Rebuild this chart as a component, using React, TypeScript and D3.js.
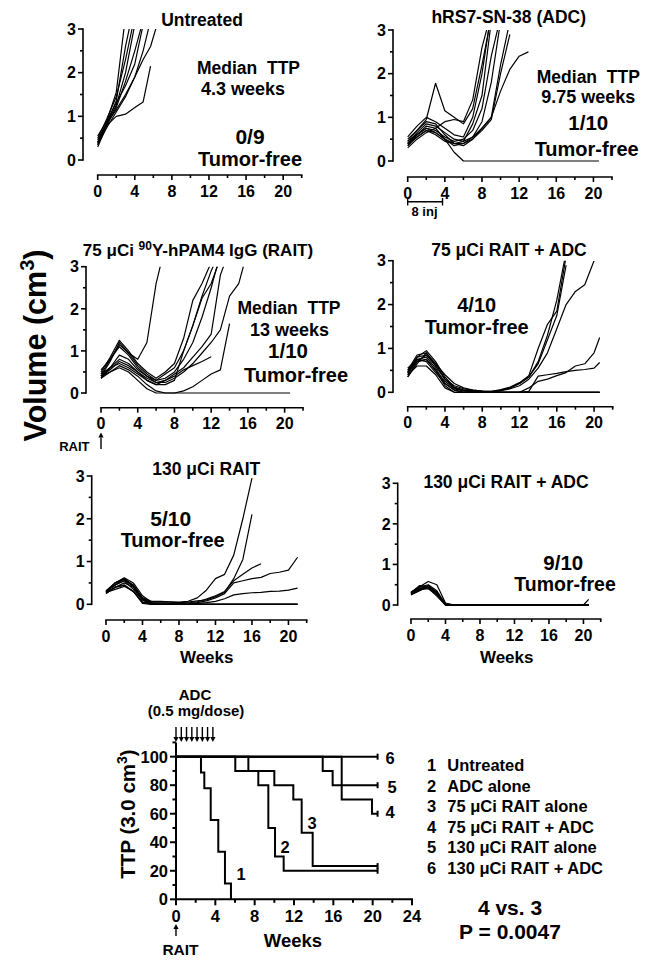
import * as d3 from "d3";

const FONT = "'Liberation Sans', Arial, Helvetica, sans-serif";

// axis ticks
const volumeTicks = [0, 1, 2, 3];
const volumeMinorTicks = [0.5, 1.5, 2.5];
const weekTicks = [0, 4, 8, 12, 16, 20];
const weekMinorTicks = [2, 6, 10, 14, 18, 22];
const ttpTicks = [0, 20, 40, 60, 80, 100];
const ttpMinorTicks = [10, 30, 50, 70, 90, 110];
const kmWeekTicks = [0, 4, 8, 12, 16, 20, 24];
const kmWeekMinorTicks = [2, 6, 10, 14, 18, 22];

// ADC injections (weeks)
const adcDoseWeeks = [0, 0.54, 1.07, 1.61, 2.14, 2.68, 3.21, 3.75];

// ---- Untreated (9 mice)
const untreatedWeeks = [0, 1, 2, 3, 4, 4.9, 5.7, 6.4];
const untreatedMice = [
  [0.45, 0.9, 1.55, 3.3],
  [0.35, 0.85, 1.35, 2.6, 3.6],
  [0.5, 0.95, 1.45, 2.3, 3.3],
  [0.4, 0.85, 1.25, 2.0, 3.1],
  [0.3, 0.8, 1.2, 1.8, 2.5, 3.2],
  [0.55, 0.9, 1.3, 1.7, 2.2, 3.1],
  [0.35, 0.75, 1.1, 1.45, 1.9, 2.5, 3.2],
  [0.4, 0.8, 1.0, 1.05, 1.2, 1.33, 2.15],
  [0.4, 0.85, 1.15, 1.5, 1.9, 2.3, 2.6, 3.1],
];

// shared weekly grid for treated groups
const weeks20 = [0, 1, 2, 3, 4, 5, 6, 7, 8, 9, 10, 11, 12, 13, 14, 15, 16, 17, 18, 19, 20, 20.6];
const weeks21 = [0, 1, 2, 3, 4, 5, 6, 7, 8, 9, 10, 11, 12, 13, 14, 15, 16, 17, 18, 19, 20, 21];

// ---- hRS7-SN-38 (ADC)
const adcMice = [
  [0.45, 0.7, 0.95, 1.78, 1.15, 1.0, 0.85, 1.2, 2.2, 3.3],
  [0.55, 0.8, 1.0, 0.9, 0.75, 0.6, 0.55, 1.0, 2.0, 3.4],
  [0.4, 0.65, 0.85, 0.8, 0.65, 0.5, 0.45, 0.85, 1.5, 3.2],
  [0.35, 0.6, 0.75, 0.7, 0.55, 0.45, 0.5, 0.7, 1.2, 2.4, 3.3],
  [0.5, 0.7, 0.9, 0.85, 0.6, 0.4, 0.4, 0.55, 0.9, 1.8, 3.2],
  [0.4, 0.55, 0.7, 0.6, 0.45, 0.4, 0.35, 0.5, 0.75, 1.0, 2.2, 3.2],
  [0.45, 0.6, 0.8, 0.75, 0.5, 0.35, 0.4, 0.5, 0.7, 0.95, 2.0, 2.9],
  [0.35, 0.55, 0.7, 0.65, 0.5, 0.4, 0.45, 0.55, 0.75, 1.0, 1.6, 2.1, 2.4, 2.5],
  [0.3, 0.5, 0.65, 0.75, 0.9, 0.95, 0.9, 1.4, 2.6, 3.4],
  [0.4, 0.6, 0.75, 0.65, 0.5, 0.2, 0, 0, 0, 0, 0, 0, 0, 0, 0, 0, 0, 0, 0, 0, 0, 0],
];

// ---- 75 uCi RAIT
const rait75Mice = [
  [0.45, 0.8, 1.15, 0.95, 0.8, 1.2, 2.6, 3.5],
  [0.5, 0.85, 1.25, 1.0, 0.7, 0.5, 0.35, 0.5, 0.7, 1.3, 2.2, 2.6, 3.1],
  [0.4, 0.75, 1.2, 0.95, 0.65, 0.45, 0.3, 0.45, 0.6, 1.0, 1.6, 2.3, 2.9, 3.4],
  [0.55, 0.8, 1.1, 0.9, 0.6, 0.4, 0.3, 0.35, 0.5, 0.8, 1.2, 1.8, 2.5, 3.3],
  [0.35, 0.6, 0.9, 0.8, 0.55, 0.4, 0.25, 0.3, 0.45, 0.6, 0.85, 1.1, 1.4, 2.8, 3.4],
  [0.4, 0.55, 0.75, 0.65, 0.5, 0.35, 0.25, 0.25, 0.35, 0.5, 0.7, 0.95, 1.2, 1.5, 2.3, 2.6, 3.4],
  [0.45, 0.6, 0.7, 0.6, 0.45, 0.3, 0.2, 0.3, 0.4, 0.55, 0.65, 0.75, 0.86],
  [0.35, 0.5, 0.65, 0.55, 0.4, 0.2, 0.05, 0, 0, 0.05, 0.15, 0.3, 0.45, 0.55, 1.65],
  [0.4, 0.6, 0.8, 0.7, 0.5, 0.3, 0.2, 0.2, 0.3, 1.0, 1.6, 2.25, 2.6, 3.2],
  [0.4, 0.5, 0.6, 0.5, 0.3, 0.1, 0, 0, 0, 0, 0, 0, 0, 0, 0, 0, 0, 0, 0, 0, 0, 0],
];

// ---- 75 uCi RAIT + ADC
const rait75AdcMice = [
  [0.45, 0.8, 0.95, 0.7, 0.35, 0.12, 0.05, 0.03, 0.02, 0.01, 0.05, 0.1, 0.2, 0.35, 0.7, 1.3, 2.1, 3.2],
  [0.5, 0.85, 0.9, 0.6, 0.3, 0.15, 0.08, 0.05, 0.03, 0.02, 0.06, 0.12, 0.22, 0.38, 1.0, 1.55, 1.85, 3.1],
  [0.35, 0.7, 0.85, 0.65, 0.4, 0.2, 0.1, 0.05, 0.03, 0.02, 0.04, 0.08, 0.15, 0.3, 0.55, 0.9, 1.45, 2.0, 2.3, 2.45, 3.0],
  [0.4, 0.75, 0.8, 0.55, 0.2, 0.05, 0, 0, 0, 0, 0, 0, 0, 0.1, 0.25, 0.3, 0.38, 0.45, 0.6, 0.65, 0.9, 1.25],
  [0.5, 0.7, 0.75, 0.5, 0.15, 0, 0, 0, 0, 0, 0, 0, 0, 0.02, 0.37, 0.4, 0.43, 0.47, 0.5, 0.52, 0.55, 0.68],
  [0.45, 0.8, 0.85, 0.6, 0.3, 0.1, 0.04, 0.02, 0.01, 0.01, 0.04, 0.1, 0.2, 0.35, 0.65, 1.2, 1.75, 2.9],
  [0.4, 0.6, 0.6, 0.4, 0.1, 0, 0, 0, 0, 0, 0, 0, 0, 0, 0, 0, 0, 0, 0, 0, 0, 0],
  [0.55, 0.75, 0.7, 0.45, 0.2, 0.05, 0, 0, 0, 0, 0, 0, 0, 0, 0, 0, 0, 0, 0, 0, 0, 0],
  [0.35, 0.65, 0.9, 0.65, 0.3, 0.1, 0.05, 0.02, 0, 0, 0, 0, 0, 0, 0, 0, 0, 0, 0, 0, 0, 0],
  [0.45, 0.7, 0.75, 0.5, 0.25, 0.08, 0.03, 0.01, 0.01, 0, 0, 0, 0, 0, 0, 0, 0, 0, 0, 0, 0, 0],
];

// ---- 130 uCi RAIT
const rait130Mice = [
  [0.3, 0.45, 0.6, 0.45, 0.15, 0.07, 0.07, 0.06, 0.05, 0.07, 0.15, 0.33, 0.6, 0.7, 1.15, 2.0, 2.95],
  [0.28, 0.5, 0.62, 0.5, 0.2, 0.05, 0.05, 0.05, 0.04, 0.05, 0.08, 0.1, 0.18, 0.28, 0.6, 1.05, 2.1],
  [0.25, 0.4, 0.5, 0.4, 0.12, 0.03, 0.03, 0.02, 0.02, 0.03, 0.06, 0.12, 0.2, 0.3, 0.55, 0.7, 0.85, 0.95],
  [0.3, 0.45, 0.55, 0.35, 0.1, 0, 0, 0, 0, 0.01, 0.04, 0.08, 0.15, 0.25, 0.5, 0.55, 0.6, 0.63, 0.72, 0.75, 0.8, 1.1],
  [0.27, 0.4, 0.45, 0.3, 0.05, 0, 0, 0, 0, 0, 0.02, 0.04, 0.07, 0.13, 0.22, 0.25, 0.27, 0.28, 0.3, 0.31, 0.33, 0.38],
  [0.3, 0.5, 0.6, 0.4, 0.1, 0, 0, 0, 0, 0, 0, 0, 0, 0, 0, 0, 0, 0, 0, 0, 0, 0],
  [0.25, 0.4, 0.45, 0.3, 0.05, 0, 0, 0, 0, 0, 0, 0, 0, 0, 0, 0, 0, 0, 0, 0, 0, 0],
  [0.3, 0.45, 0.55, 0.45, 0.15, 0.03, 0, 0, 0, 0, 0, 0, 0, 0, 0, 0, 0, 0, 0, 0, 0, 0],
  [0.28, 0.35, 0.42, 0.3, 0.02, 0, 0, 0, 0, 0, 0, 0, 0, 0, 0, 0, 0, 0, 0, 0, 0, 0],
  [0.32, 0.5, 0.58, 0.42, 0.12, 0, 0, 0, 0, 0, 0, 0, 0, 0, 0, 0, 0, 0, 0, 0, 0, 0],
];

// ---- 130 uCi RAIT + ADC
const rait130AdcMice = [
  [0.28, 0.4, 0.45, 0.3, 0, 0, 0, 0, 0, 0, 0, 0, 0, 0, 0, 0, 0, 0, 0, 0, 0, 0.14],
  [0.3, 0.45, 0.58, 0.5, 0.05, 0, 0, 0, 0, 0, 0, 0, 0, 0, 0, 0, 0, 0, 0, 0, 0, 0],
  [0.25, 0.35, 0.45, 0.3, 0, 0, 0, 0, 0, 0, 0, 0, 0, 0, 0, 0, 0, 0, 0, 0, 0, 0],
  [0.3, 0.42, 0.43, 0.28, 0, 0, 0, 0, 0, 0, 0, 0, 0, 0, 0, 0, 0, 0, 0, 0, 0, 0],
  [0.32, 0.45, 0.5, 0.35, 0.02, 0, 0, 0, 0, 0, 0, 0, 0, 0, 0, 0, 0, 0, 0, 0, 0, 0],
  [0.27, 0.38, 0.4, 0.25, 0, 0, 0, 0, 0, 0, 0, 0, 0, 0, 0, 0, 0, 0, 0, 0, 0, 0],
  [0.3, 0.48, 0.45, 0.32, 0, 0, 0, 0, 0, 0, 0, 0, 0, 0, 0, 0, 0, 0, 0, 0, 0, 0],
  [0.26, 0.36, 0.48, 0.3, 0, 0, 0, 0, 0, 0, 0, 0, 0, 0, 0, 0, 0, 0, 0, 0, 0, 0],
  [0.29, 0.4, 0.42, 0.22, 0, 0, 0, 0, 0, 0, 0, 0, 0, 0, 0, 0, 0, 0, 0, 0, 0, 0],
  [0.31, 0.44, 0.47, 0.3, 0.03, 0, 0, 0, 0, 0, 0, 0, 0, 0, 0, 0, 0, 0, 0, 0, 0, 0],
];

// ---- Kaplan-Meier: time to 3.0 cm3
const kmGroups = [
  "Untreated",
  "ADC alone",
  "75 \u03bcCi RAIT alone",
  "75 \u03bcCi RAIT + ADC",
  "130 \u03bcCi RAIT alone",
  "130 \u03bcCi RAIT + ADC",
];
const km1Weeks = [0, 2.54, 2.88, 3.53, 4.3, 4.98, 5.59];
const km1Pct = [100, 88.9, 77.8, 55.6, 33.3, 11.1, 0];
const km2Weeks = [0, 6.03, 8.37, 9.39, 10.07, 10.95, 20.5];
const km2Pct = [100, 90, 80, 50, 30, 20, 20];
const km3Weeks = [0, 7.36, 10.0, 11.93, 12.78, 13.9, 20.5];
const km3Pct = [100, 90, 80, 70, 46.7, 23.3, 23.3];
const km4Weeks = [0, 16.85, 19.93, 20.5];
const km4Pct = [100, 70, 60, 60];
const km5Weeks = [0, 14.92, 15.93, 20.5];
const km5Pct = [100, 90, 80, 80];
const km6Weeks = [0, 20.5];
const km6Pct = [100, 100];

type Layout = { x0: number; x22: number; y0: number; y3: number; axisX: number; axisY: number };

function Arrow({ x, from, to }: { x: number; from: number; to: number }) {
  const dir = Math.sign(to - from);
  const h = 5;
  return (
    <g>
      <line x1={x} x2={x} y1={from} y2={to - dir * h} stroke="#000" strokeWidth={1.4} />
      <path d={`M${x - 2.6},${to - dir * h} L${x + 2.6},${to - dir * h} L${x},${to} Z`} fill="#000" />
    </g>
  );
}

function Panel({ id, layout, weeks, mice }: { id: string; layout: Layout; weeks: number[]; mice: number[][] }) {
  const x = d3.scaleLinear().domain([0, 22]).range([layout.x0, layout.x22]);
  const y = d3.scaleLinear().domain([0, 3]).range([layout.y0, layout.y3]);
  const line = d3
    .line<number>()
    .x((_, i) => x(weeks[i]))
    .y((v) => y(v));
  const ax = layout.axisX;
  const ay = layout.axisY;
  return (
    <g>
      <clipPath id={id}>
        <rect x={x(0) - 4} y={y(3)} width={x(22) - x(0) + 8} height={y(0) - y(3) + 6} />
      </clipPath>
      <g clipPath={`url(#${id})`} fill="none" stroke="#000" strokeWidth={1.2} strokeLinejoin="round">
        {mice.map((m, i) => (
          <path key={i} d={line(m) ?? ""} />
        ))}
      </g>
      <g stroke="#000" strokeWidth={1.6}>
        <line x1={ax} x2={ax} y1={y(0) + 0.8} y2={y(3) - 0.8} />
        {volumeTicks.map((t) => (
          <line key={t} x1={ax - 5} x2={ax} y1={y(t)} y2={y(t)} />
        ))}
        {volumeMinorTicks.map((t) => (
          <line key={t} x1={ax - 3} x2={ax} y1={y(t)} y2={y(t)} />
        ))}
        <line x1={x(0) - 0.8} x2={x(22) + 0.8} y1={ay} y2={ay} />
        {weekTicks.map((t) => (
          <line key={t} x1={x(t)} x2={x(t)} y1={ay} y2={ay + 5} />
        ))}
        {weekMinorTicks.map((t) => (
          <line key={t} x1={x(t)} x2={x(t)} y1={ay} y2={ay + 3} />
        ))}
      </g>
      <g fontSize={16}>
        {volumeTicks.map((t) => (
          <text key={t} x={ax - 7} y={y(t)} dy="0.36em" textAnchor="end">
            {t}
          </text>
        ))}
        {weekTicks.map((t) => (
          <text key={t} x={x(t)} y={ay + 21.5} textAnchor="middle">
            {t}
          </text>
        ))}
      </g>
    </g>
  );
}

function T({ x, y, size, children, anchor = "middle" }: any) {
  return (
    <text x={x} y={y} fontSize={size} textAnchor={anchor} style={{ whiteSpace: "pre" }}>
      {children}
    </text>
  );
}

function KaplanMeier() {
  const x = d3.scaleLinear().domain([0, 24]).range([176, 412]);
  const y = d3.scaleLinear().domain([0, 110]).range([899.3, 742.4]);
  const step = d3
    .line<[number, number]>()
    .x((d) => x(d[0]))
    .y((d) => y(d[1]))
    .curve(d3.curveStepAfter);
  const curves: [number, number][][] = [
    d3.zip(km1Weeks, km1Pct) as [number, number][],
    d3.zip(km2Weeks, km2Pct) as [number, number][],
    d3.zip(km3Weeks, km3Pct) as [number, number][],
    d3.zip(km4Weeks, km4Pct) as [number, number][],
    d3.zip(km5Weeks, km5Pct) as [number, number][],
    d3.zip(km6Weeks, km6Pct) as [number, number][],
  ];
  const labelPos = [
    [241, 879.5],
    [285, 853],
    [312, 828.5],
    [390, 817.5],
    [392, 793],
    [390, 764],
  ];
  return (
    <g>
      <g fill="none" stroke="#000" strokeWidth={2}>
        {curves.map((c, i) => (
          <path key={i} d={step(c) ?? ""} />
        ))}
        {curves.slice(1).map((c, i) => {
          const last = c[c.length - 1];
          return <line key={i} x1={x(last[0])} x2={x(last[0])} y1={y(last[1]) - 3} y2={y(last[1]) + 3} />;
        })}
      </g>
      <g stroke="#000" strokeWidth={2}>
        <line x1={x(0)} x2={x(0)} y1={y(0) + 1} y2={y(110)} />
        <line x1={x(0) - 1} x2={x(24) + 1} y1={y(0)} y2={y(0)} />
        {ttpTicks.map((t) => (
          <line key={t} x1={x(0) - 6} x2={x(0)} y1={y(t)} y2={y(t)} />
        ))}
        {ttpMinorTicks.map((t) => (
          <line key={t} x1={x(0) - 3.5} x2={x(0)} y1={y(t)} y2={y(t)} />
        ))}
        {kmWeekTicks.map((t) => (
          <line key={t} x1={x(t)} x2={x(t)} y1={y(0)} y2={y(0) + 6} />
        ))}
        {kmWeekMinorTicks.map((t) => (
          <line key={t} x1={x(t)} x2={x(t)} y1={y(0)} y2={y(0) + 3.5} />
        ))}
      </g>
      <g fontSize={16.5}>
        {ttpTicks.map((t) => (
          <text key={t} x={x(0) - 8} y={y(t)} dy="0.36em" textAnchor="end">
            {t}
          </text>
        ))}
        {kmWeekTicks.map((t) => (
          <text key={t} x={x(t)} y={921.5} textAnchor="middle">
            {t}
          </text>
        ))}
        {labelPos.map((p, i) => (
          <text key={i} x={p[0]} y={p[1]} textAnchor="middle">
            {i + 1}
          </text>
        ))}
      </g>
      {adcDoseWeeks.map((w) => (
        <Arrow key={w} x={x(w)} from={727} to={742} />
      ))}
      <Arrow x={x(0)} from={936} to={924} />
      <T x={180.5} y={955} size={15.5}>RAIT</T>
      <T x={195} y={700} size={15}>ADC</T>
      <T x={196} y={716} size={15}>(0.5 mg/dose)</T>
      <T x={293} y={946.5} size={18.5}>Weeks</T>
      <text transform="translate(135,814) rotate(-90)" fontSize={20.5} textAnchor="middle">
        TTP (3.0 cm
        <tspan dy={-8} fontSize={14}>
          3
        </tspan>
        <tspan dy={8}>)</tspan>
      </text>
      <g fontSize={16.5}>
        {kmGroups.map((g, i) => (
          <g key={g}>
            <text x={431.7} y={771 + i * 20.6} textAnchor="middle">
              {i + 1}
            </text>
            <text x={447.3} y={771 + i * 20.6}>
              {g}
            </text>
          </g>
        ))}
      </g>
      <T x={510} y={915} size={21}>4 vs. 3</T>
      <T x={510} y={939.3} size={21}>P = 0.0047</T>
    </g>
  );
}

export default function App() {
  const adcX = d3.scaleLinear().domain([0, 22]).range([407.7, 612]);
  return (
    <svg
      width={650}
      height={964}
      style={{ position: "absolute", left: 0, top: 0, background: "#fff" }}
      fontFamily={FONT}
      fontWeight="bold"
      fill="#000"
    >
      {/* Untreated */}
      <Panel id="c1" layout={{ x0: 97.7, x22: 301.7, y0: 160, y3: 29, axisX: 83, axisY: 175 }} weeks={untreatedWeeks} mice={untreatedMice} />
      <T x={202} y={26} size={17.5}>Untreated</T>
      <T x={248.5} y={74} size={17.5}>{"Median  TTP"}</T>
      <T x={243} y={95} size={18}>4.3 weeks</T>
      <T x={250} y={144} size={21}>0/9</T>
      <T x={250} y={165.7} size={20}>Tumor-free</T>

      {/* ADC */}
      <Panel id="c2" layout={{ x0: 407.7, x22: 612, y0: 161, y3: 30, axisX: 393, axisY: 177 }} weeks={weeks20} mice={adcMice} />
      <T x={508.7} y={22.7} size={17.5}>hRS7-SN-38 (ADC)</T>
      <T x={588.3} y={82.7} size={17.5}>{"Median  TTP"}</T>
      <T x={588.3} y={103.3} size={18}>9.75 weeks</T>
      <T x={588.3} y={130} size={20.5}>1/10</T>
      <T x={586.7} y={156} size={20}>Tumor-free</T>
      <g stroke="#000" strokeWidth={1.4}>
        <line x1={adcX(adcDoseWeeks[0])} x2={adcX(adcDoseWeeks[7])} y1={201.7} y2={201.7} />
        <line x1={adcX(adcDoseWeeks[0])} x2={adcX(adcDoseWeeks[0])} y1={198} y2={205.5} />
        <line x1={adcX(adcDoseWeeks[7])} x2={adcX(adcDoseWeeks[7])} y1={198} y2={205.5} />
      </g>
      <T x={424.5} y={216} size={13}>8 inj</T>

      {/* 75 uCi RAIT */}
      <Panel id="c3" layout={{ x0: 101, x22: 303, y0: 393, y3: 266.7, axisX: 86, axisY: 407.7 }} weeks={weeks20} mice={rait75Mice} />
      <text x={198} y={256} fontSize={17} textAnchor="middle">
        75 {"\u03bc"}Ci{" "}
        <tspan dy={-6} fontSize={12}>
          90
        </tspan>
        <tspan dy={6}>Y-hPAM4 IgG (RAIT)</tspan>
      </text>
      <T x={289} y={314.3} size={17.5}>{"Median  TTP"}</T>
      <T x={289.5} y={336} size={18}>13 weeks</T>
      <T x={288} y={358.3} size={20.5}>1/10</T>
      <T x={296} y={381.7} size={20}>Tumor-free</T>
      <Arrow x={101} from={449} to={432.5} />
      <T x={74.3} y={450.7} size={13}>RAIT</T>

      {/* 75 uCi RAIT + ADC */}
      <Panel id="c4" layout={{ x0: 407.7, x22: 612.7, y0: 392.3, y3: 260.7, axisX: 393, axisY: 406.7 }} weeks={weeks20} mice={rait75AdcMice} />
      <T x={509} y={256} size={17.5}>75 {"\u03bc"}Ci RAIT + ADC</T>
      <T x={476.7} y={311.7} size={20}>4/10</T>
      <T x={476.7} y={334.3} size={20}>Tumor-free</T>

      {/* 130 uCi RAIT */}
      <Panel id="c5" layout={{ x0: 106, x22: 306.7, y0: 604.3, y3: 476, axisX: 91.7, axisY: 620 }} weeks={weeks21} mice={rait130Mice} />
      <T x={206.3} y={475} size={17.5}>130 {"\u03bc"}Ci RAIT</T>
      <T x={170.7} y={526} size={21}>5/10</T>
      <T x={172.7} y={547.3} size={20}>Tumor-free</T>
      <T x={206.7} y={663.3} size={17}>Weeks</T>

      {/* 130 uCi RAIT + ADC */}
      <Panel id="c6" layout={{ x0: 411, x22: 600.7, y0: 605, y3: 483.3, axisX: 397.7, axisY: 619 }} weeks={weeks20} mice={rait130AdcMice} />
      <T x={506} y={488.3} size={17.5}>130 {"\u03bc"}Ci RAIT + ADC</T>
      <T x={563.3} y={570} size={20.5}>9/10</T>
      <T x={565} y={591} size={19.5}>Tumor-free</T>
      <T x={506.7} y={663.3} size={17}>Weeks</T>

      {/* shared y label */}
      <text transform="translate(46,345.5) rotate(-90)" fontSize={30.5} textAnchor="middle">
        Volume (cm
        <tspan dy={-12} fontSize={20}>
          3
        </tspan>
        <tspan dy={12}>)</tspan>
      </text>

      <KaplanMeier />
    </svg>
  );
}
